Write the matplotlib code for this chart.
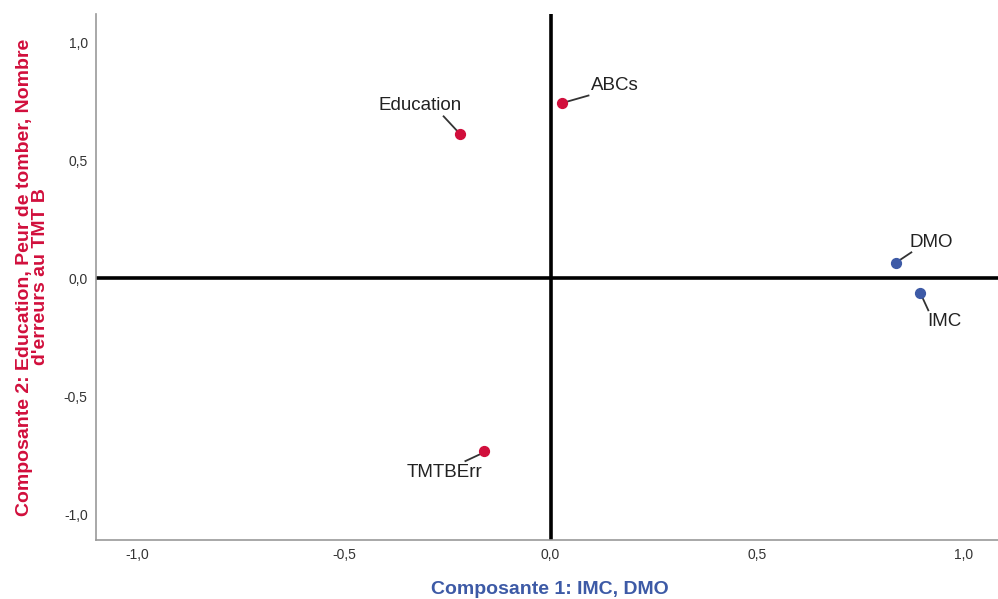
import matplotlib
matplotlib.use("Agg")
import matplotlib.pyplot as plt
from matplotlib.transforms import offset_copy

plt.rcParams['font.family'] = ['Liberation Sans', 'DejaVu Sans']

labels = ["Education", "ABCs", "DMO", "IMC", "TMTBErr"]
comp1 = [-0.22, 0.029, 0.837, 0.895, -0.16]
comp2 = [0.61, 0.745, 0.063, -0.064, -0.733]
groups = ["red", "red", "blue", "blue", "red"]
# label and leader-line offsets in pixels (dx right, dy up)
label_off = [(-39, 29), (52, 17), (35, 21), (24, -28), (-40, -21)]
line_off = [((-3, 4), (-16, 18)), ((5, 1), (26, 7)), ((3, 3), (15, 11)),
            ((2, -4), (8, -17)), ((-4, -3), (-19, -10))]
ticks = [-1.0, -0.5, 0.0, 0.5, 1.0]
tick_labels = ["-1,0", "-0,5", "0,0", "0,5", "1,0"]

RED = "#d10f3c"
BLUE = "#3d5aa6"
colmap = {"red": RED, "blue": BLUE}

fig = plt.figure(figsize=(9.98, 5.99), dpi=100)
ax = fig.add_axes([0.0962, 0.0985, 0.9038, 0.878])
ax.set_xlim(-1.1, 1.083)
ax.set_ylim(-1.11, 1.12)

ax.axhline(0, color="black", lw=2.6, zorder=1)
ax.axvline(0, color="black", lw=2.6, zorder=1)

for x, y, lab, g, (ldx, ldy), ((a1, b1), (a2, b2)) in zip(
        comp1, comp2, labels, groups, label_off, line_off):
    c = colmap[g]
    ax.scatter([x], [y], s=50, color=c, zorder=4, edgecolors=c)
    tl = offset_copy(ax.transData, fig=fig, x=ldx, y=ldy, units="dots")
    ax.text(x, y, lab, transform=tl, ha="center", va="center",
            fontsize=13.5, color="#222222")
    t1 = offset_copy(ax.transData, fig=fig, x=a1, y=b1, units="dots")
    t2 = offset_copy(ax.transData, fig=fig, x=a2, y=b2, units="dots")
    p1 = t1.transform((x, y))
    p2 = t2.transform((x, y))
    ax.plot([p1[0], p2[0]], [p1[1], p2[1]], transform=None,
            color="#333333", lw=1.3, zorder=3)

ax.set_xticks(ticks)
ax.set_xticklabels(tick_labels, fontsize=10, color="#333333")
ax.set_yticks(ticks)
ax.set_yticklabels(tick_labels, fontsize=10, color="#333333")
ax.tick_params(length=0, pad=6)

for s in ["top", "right"]:
    ax.spines[s].set_visible(False)
for s in ["left", "bottom"]:
    ax.spines[s].set_color("#999999")
    ax.spines[s].set_linewidth(1.2)

ax.set_xlabel("Composante 1: IMC, DMO", fontsize=14, fontweight="bold",
              color=BLUE)
ax.xaxis.set_label_coords(0.503, -0.078)
ax.set_ylabel("Composante 2: Education, Peur de tomber, Nombre\nd'erreurs au TMT B",
              fontsize=14, fontweight="bold", color=RED, linespacing=0.95)
ax.yaxis.set_label_coords(-0.052, 0.5)

fig.savefig("out.png", dpi=100)
